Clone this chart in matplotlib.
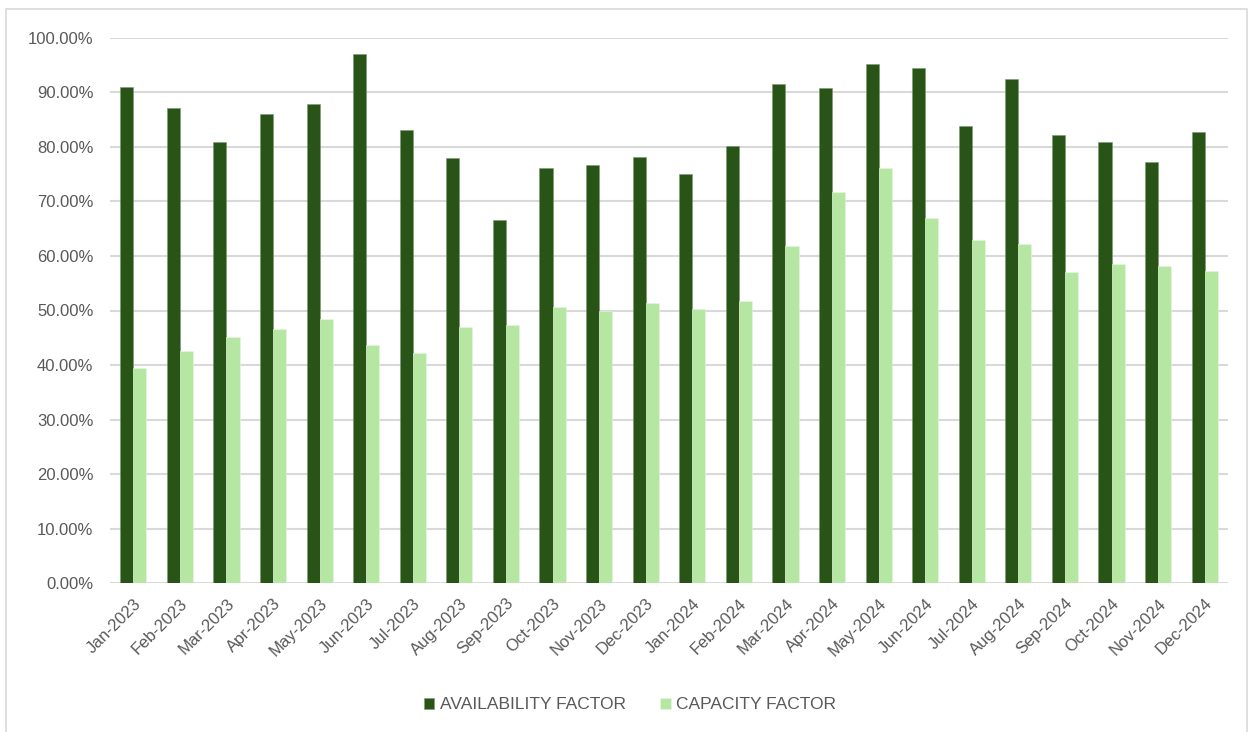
import matplotlib.pyplot as plt
import matplotlib.patches as patches
import numpy as np
from matplotlib.ticker import PercentFormatter

plt.rcParams['font.family'] = ['Liberation Sans', 'DejaVu Sans']

months = ['Jan-2023', 'Feb-2023', 'Mar-2023', 'Apr-2023', 'May-2023', 'Jun-2023',
          'Jul-2023', 'Aug-2023', 'Sep-2023', 'Oct-2023', 'Nov-2023', 'Dec-2023',
          'Jan-2024', 'Feb-2024', 'Mar-2024', 'Apr-2024', 'May-2024', 'Jun-2024',
          'Jul-2024', 'Aug-2024', 'Sep-2024', 'Oct-2024', 'Nov-2024', 'Dec-2024']

# values in percent
availability = [90.9, 87.2, 80.9, 86.0, 87.8, 97.1, 83.0, 78.0, 66.5, 76.1, 76.7, 78.2,
                75.1, 80.1, 91.6, 90.8, 95.2, 94.5, 83.8, 92.5, 82.1, 80.8, 77.3, 82.8]
capacity = [39.4, 42.6, 45.2, 46.6, 48.4, 43.6, 42.2, 46.9, 47.3, 50.6, 49.9, 51.4,
            50.2, 51.7, 61.8, 71.8, 76.2, 67.0, 62.9, 62.1, 57.1, 58.5, 58.2, 57.2]

dark = '#295418'
light = '#b5e6a2'
grey = '#595959'

fig = plt.figure(figsize=(12.52, 7.32), dpi=100)
ax = fig.add_axes([110 / 1252, 1 - 583.3 / 732, (1228 - 110) / 1252, (583.3 - 37.7) / 732])

x = np.arange(len(months))
w = 0.28
ax.bar(x - w / 2, availability, w, color=dark, edgecolor='#7a9a6e', linewidth=0.4,
       label='AVAILABILITY FACTOR', zorder=3)
ax.bar(x + w / 2, capacity, w, color=light, edgecolor='#e6f7de', linewidth=0.4,
       label='CAPACITY FACTOR', zorder=3)

ax.set_xlim(-0.5, len(months) - 0.5)
ax.set_ylim(0, 100)
ax.set_yticks(np.arange(0, 101, 10))
ax.yaxis.set_major_formatter(PercentFormatter(decimals=2))
ax.grid(axis='y', color='#d9d9d9', linewidth=1.5, zorder=0)
for s in ax.spines.values():
    s.set_visible(False)
ax.tick_params(axis='both', length=0, colors=grey, labelsize=12)
ax.tick_params(axis='y', pad=12)
ax.tick_params(axis='x', pad=9)
ax.set_xticks(x)
ax.set_xticklabels(months, rotation=45, ha='right', rotation_mode='anchor')

ax.legend(loc='upper center', bbox_to_anchor=(0.465, -0.18), ncol=2, frameon=False,
          fontsize=12.5, labelcolor=grey, handlelength=0.6, handleheight=0.6,
          handletextpad=0.3, columnspacing=2.0)

# chart area border
fig.patches.append(patches.Rectangle((6 / 1252, -0.01), (1247 - 6) / 1252, 1 - 9 / 732 + 0.01,
                                     transform=fig.transFigure, fill=False,
                                     edgecolor='#d9d9d9', linewidth=1.2))

fig.savefig('out.png', dpi=100)
